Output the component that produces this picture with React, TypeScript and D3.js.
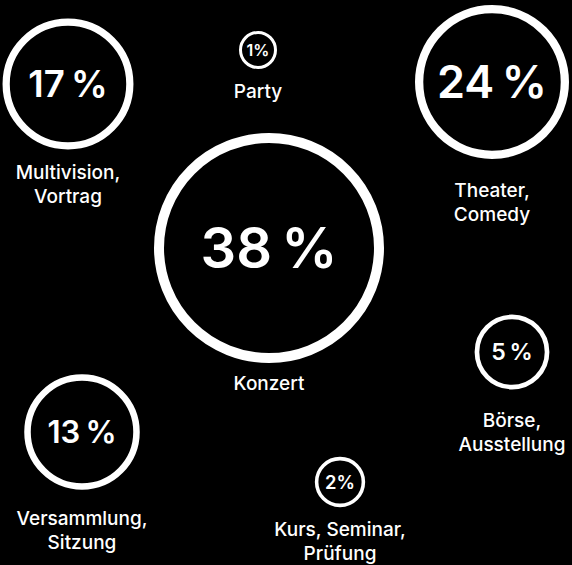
import React, { useEffect } from 'react';
import * as d3 from 'd3';

// Share of events by type (in %)
const categories = [
  ['Konzert'],
  ['Theater,', 'Comedy'],
  ['Multivision,', 'Vortrag'],
  ['Versammlung,', 'Sitzung'],
  ['Börse,', 'Ausstellung'],
  ['Kurs, Seminar,', 'Prüfung'],
  ['Party'],
];
const values = [38, 24, 17, 13, 5, 2, 1];

// where each bubble sits on the page (hand placed, like the original)
const layout = [
  { cx: 269, cy: 248, labelY: 390 },
  { cx: 492, cy: 82, labelY: 197 },
  { cx: 68, cy: 84, labelY: 179 },
  { cx: 82, cy: 432, labelY: 525 },
  { cx: 512, cy: 352, labelY: 427 },
  { cx: 340, cy: 482, labelY: 536 },
  { cx: 258, cy: 50, labelY: 98 },
];

const W = 572;
const H = 565;
const FONT = 'Inter, "Noto Sans", sans-serif';

export default function App() {
  useEffect(() => {
    document.body.style.margin = '0';
    document.body.style.background = '#000';
  }, []);

  const rScale = d3.scaleSqrt().domain([1, 24, 38]).range([19, 77, 115]);
  const fontScale = d3.scaleSqrt().domain([1, 13, 24, 38]).range([16, 31, 45, 56]);
  const strokeScale = d3.scaleSqrt().domain([1, 38]).range([3, 10]);

  return (
    <svg width={W} height={H} style={{ display: 'block', background: '#000' }}>
      {values.map((v, i) => {
        const { cx, cy, labelY } = layout[i];
        const sw = strokeScale(v);
        const r = rScale(v) - sw / 2;
        const fs = fontScale(v);
        return (
          <g key={i}>
            <circle cx={cx} cy={cy} r={r} fill="none" stroke="#fff" strokeWidth={sw} />
            <text
              x={cx}
              y={cy}
              dy="0.36em"
              textAnchor="middle"
              fill="#fff"
              fontFamily={FONT}
              fontWeight={600}
              fontSize={fs}
            >
              {v + (v < 5 ? '%' : '\u2009%')}
            </text>
            {categories[i].map((line, j) => (
              <text
                key={j}
                x={cx}
                y={labelY + j * 24}
                textAnchor="middle"
                fill="#fff"
                fontFamily={FONT}
                fontWeight={500}
                fontSize={19}
              >
                {line}
              </text>
            ))}
          </g>
        );
      })}
    </svg>
  );
}
